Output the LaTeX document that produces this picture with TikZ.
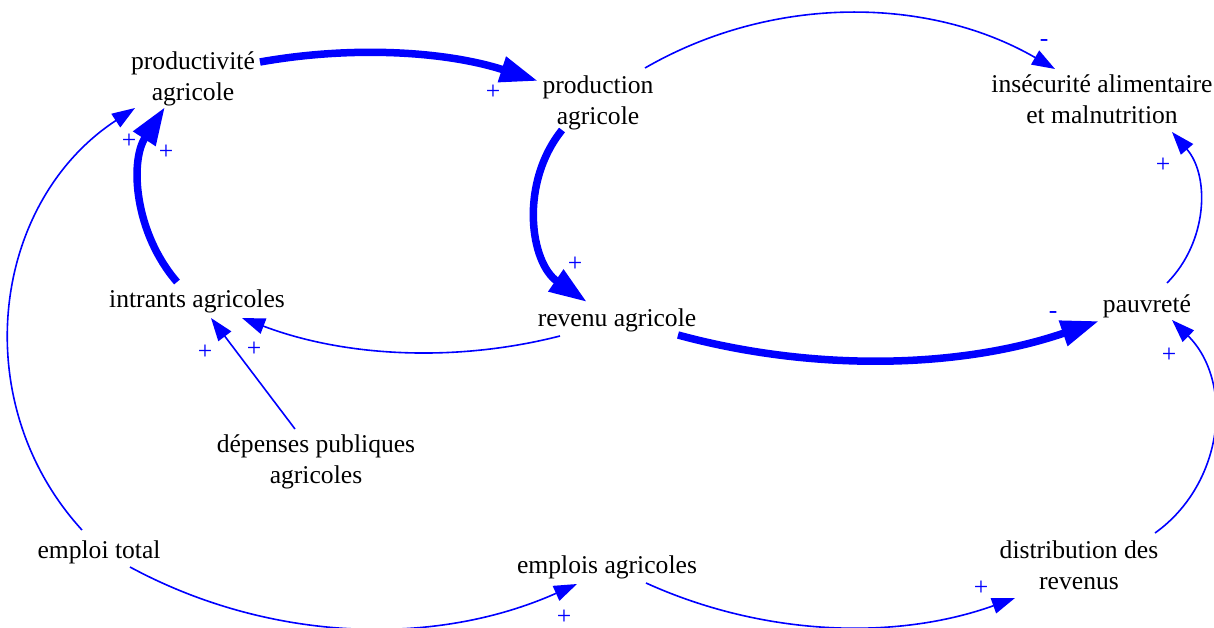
\documentclass[tikz,border=0pt]{standalone}
\usepackage{fontspec}
\setmainfont{Liberation Serif}
\usetikzlibrary{arrows.meta,calc}
\definecolor{vblue}{RGB}{0,0,255}
\tikzset{
  var/.style={font=\fontsize{25.6}{30.5}\selectfont, align=center, inner sep=0pt, text=black},
  sgn/.style={font=\fontsize{25.6}{30.5}\selectfont, text=vblue, inner sep=0pt},
  lnk/.style={draw=vblue, line width=1.6pt, -{Triangle[length=23pt,width=16pt]}, fill=none},
  lnkthick/.style={draw=vblue, line width=7.5pt, -{Triangle[length=38pt,width=25pt]}, fill=none},
}
\begin{document}
\begin{tikzpicture}[x=1pt,y=-1pt]
\useasboundingbox (0,0) rectangle (1214,628);
% variables
\node[var] (pa)  at (193,79)  {\strut productivité\\\strut agricole};
\node[var] (pr)  at (598,103) {\strut production\\\strut agricole};
\node[var] (ins) at (1102,102) {\strut insécurité alimentaire\\\strut et malnutrition};
\node[var] (ia)  at (197,301) {\strut intrants agricoles};
\node[var] (ra)  at (617,320) {\strut revenu agricole};
\node[var] (pv)  at (1147,306) {\strut pauvreté};
\node[var] (dpa) at (316,462) {\strut dépenses publiques\\\strut agricoles};
\node[var] (et)  at (99,552)  {\strut emploi total};
\node[var] (ea)  at (607,567) {\strut emplois agricoles};
\node[var] (dr)  at (1079,568) {\strut distribution des\\\strut revenus};
% links
\draw[lnkthick] ($(pa)+(67,-17)$) .. controls +(94.1,-16.7) and +(-91.2,-29.4) .. ($(pr)+(-60,-22)$);
\draw[lnk] ($(pr)+(47,-35)$) .. controls +(126.9,-73.3) and +(-126.9,-73.3) .. ($(ins)+(-47,-33)$);
\draw[lnkthick] ($(pr)+(-36,27)$) .. controls +(-43.1,53.8) and +(-56.7,-39.2) .. ($(ra)+(-30,-18)$);
\draw[lnkthick] ($(ia)+(-20,-19)$) .. controls +(-42.6,-49.2) and +(-35.5,54.5) .. ($(pa)+(-28,28)$);
\draw[lnk] ($(et)+(-17,-22)$) .. controls +(-116.1,-127.1) and +(-144,94.5) .. ($(pa)+(-58,29)$);
\draw[lnk] ($(ra)+(-57,16)$) .. controls +(-105.5,26.9) and +(101.8,38.7) .. ($(ia)+(45,17)$);
\draw[lnk] ($(dpa)+(-21,-33)$) -- ($(ia)+(14,17)$);
\draw[lnkthick] ($(ra)+(61,15)$) .. controls +(138.7,37.7) and +(-135.9,46.8) .. ($(pv)+(-48,15)$);
\draw[lnk] ($(pv)+(20,-23)$) .. controls +(40.9,-41.3) and +(38,43.9) .. ($(ins)+(70,30)$);
\draw[lnk] ($(dr)+(76,-35)$) .. controls +(70.3,-50.3) and +(61.5,60.8) .. ($(pv)+(25,14)$);
\draw[lnk] ($(et)+(31,15)$) .. controls +(138.3,74.8) and +(-143.6,64) .. ($(ea)+(-30,17)$);
\draw[lnk] ($(ea)+(39,16)$) .. controls +(116.4,52.8) and +(-120.3,43.1) .. ($(dr)+(-64,30)$);
% polarities
\node[sgn] (s1)  at (493,92)  {+};
\node[sgn] (s2)  at (1044,43) {-};
\node[sgn] (s3)  at (575,264) {+};
\node[sgn] (s4)  at (166,152) {+};
\node[sgn] (s5)  at (129,141) {+};
\node[sgn] (s6)  at (254,349) {+};
\node[sgn] (s7)  at (205,352) {+};
\node[sgn] (s8)  at (1053,315) {-};
\node[sgn] (s9)  at (1163,165) {+};
\node[sgn] (s10) at (1169,355) {+};
\node[sgn] (s11) at (564,617) {+};
\node[sgn] (s12) at (981,588) {+};
\end{tikzpicture}
\end{document}
